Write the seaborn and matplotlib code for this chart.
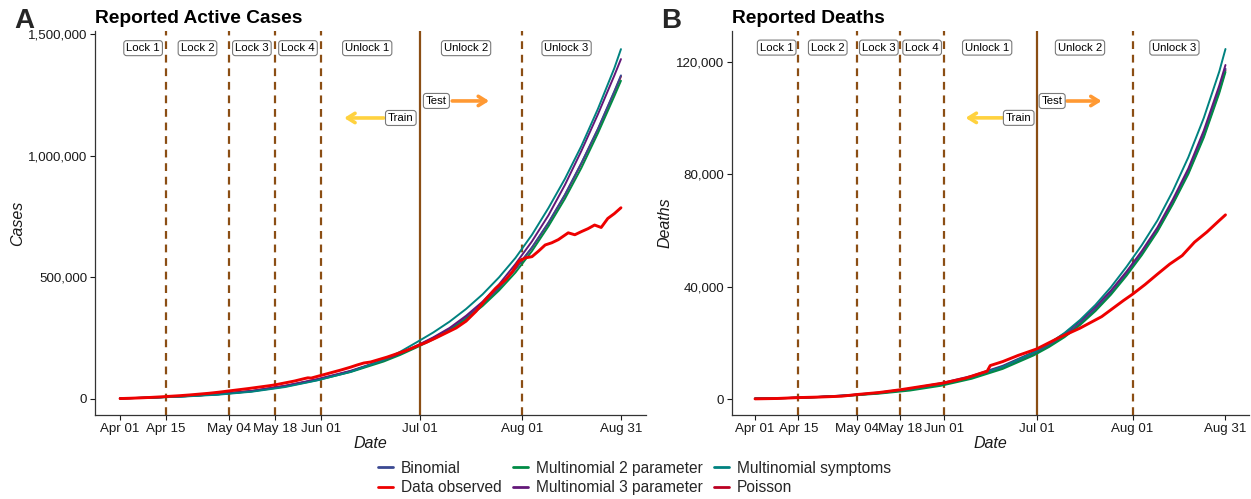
import pandas as pd
import matplotlib
matplotlib.use("Agg")
import matplotlib.pyplot as plt
import matplotlib.dates as mdates
from matplotlib.ticker import FuncFormatter
from matplotlib.lines import Line2D
import seaborn as sns

sns.set_theme(style="ticks")
plt.rcParams["font.family"] = ["Liberation Sans", "DejaVu Sans"]

START = pd.Timestamp("2020-04-01")

# ---------------- data: days counted from 1 April 2020 ----------------
OBS_CASE_DAYS = [0, 3, 6, 9, 12, 15, 18, 21, 24, 27, 30, 33, 36, 39, 42, 45, 47, 50, 53, 56,
                 57, 58, 61, 64, 67, 70, 72, 74, 76, 78, 81, 84, 87, 90, 93, 96, 99, 102, 105, 108,
                 111, 114, 117, 119, 121, 123, 125, 127, 129, 131, 133, 136, 138, 140, 142, 144,
                 146, 148, 150, 152]
OBS_CASES = [1800, 3000, 4500, 6300, 8500, 11000, 13500, 16500, 20000, 23500,
             28000, 33000, 38000, 43000, 48500, 54000, 58000, 66000, 74000, 84000,
             87000, 86000, 97000, 108000, 119000, 131000, 140000, 148000, 152000, 160000,
             172000, 186000, 200000, 217000, 233000, 252000, 272000, 292000, 320000, 360000,
             410000, 455000, 490000, 522000, 566000, 580000, 585000, 608000, 633000, 642000,
             655000, 683000, 675000, 688000, 700000, 715000, 705000, 742000, 762000, 786000]

MODEL_CASE_DAYS = [0, 10, 20, 30, 40, 50, 60, 70, 80, 85, 90, 95, 100, 105, 110, 115, 120,
                   125, 130, 135, 140, 145, 150, 152]
CASES_BINOMIAL = [2500, 6000, 12000, 20000, 32500, 53000, 80000, 114000, 158000, 185000,
                  216000, 250000, 288000, 335000, 390000, 457000, 535000, 623000, 725000,
                  840000, 970000, 1110000, 1265000, 1330000]
CASES_MULTI2 = [2500, 5800, 11500, 19500, 31500, 51000, 78000, 111000, 154000, 181000,
                212000, 245000, 282000, 328000, 382000, 446000, 520000, 608000, 710000,
                823000, 950000, 1092000, 1245000, 1308000]
CASES_MULTI3 = [2500, 6000, 12000, 20000, 33000, 54000, 82000, 116000, 160000, 187000,
                219000, 253000, 292000, 342000, 400000, 471000, 555000, 648000, 755000,
                880000, 1020000, 1170000, 1330000, 1397000]
CASES_SYMPTOMS = [2500, 5500, 10500, 18000, 30000, 49000, 77000, 112000, 160000, 194000,
                  233000, 273000, 318000, 370000, 430000, 500000, 580000, 675000, 785000,
                  905000, 1040000, 1192000, 1360000, 1438000]
CASES_POISSON = [2500, 6000, 12000, 20000, 32500, 53000, 80000, 114000, 158000, 185000,
                 216000, 250000, 288000, 334000, 390000, 456000, 534000, 622000, 723000,
                 838000, 968000, 1108000, 1262000, 1326000]

OBS_DEATH_DAYS = [0, 7, 14, 21, 28, 33, 40, 47, 54, 61, 68, 75, 76, 80, 85, 91, 98, 105, 112,
                  119, 122, 126, 130, 134, 138, 142, 146, 150, 152]
OBS_DEATHS = [50, 180, 500, 700, 1000, 1600, 2300, 3300, 4500, 5700,
              7400, 9900, 11900, 13300, 15500, 17800, 21700, 25200, 29300, 35000,
              37300, 40700, 44400, 48000, 51000, 55800, 59400, 63500, 65500]

MODEL_DEATH_DAYS = [0, 10, 20, 30, 40, 50, 60, 70, 80, 90, 95, 100, 105, 110, 115, 120, 125,
                    130, 135, 140, 145, 150, 152]
DEATHS_BINOMIAL = [150, 335, 690, 1250, 2100, 3350, 5150, 7700, 11200, 16100, 19100, 22600,
                   26900, 32000, 37800, 44500, 52000, 60200, 70100, 81000, 94200, 110000, 117500]
DEATHS_MULTI2 = [150, 320, 640, 1150, 1900, 3000, 4700, 7200, 10700, 15500, 18500, 22000,
                 26300, 31300, 37100, 43800, 51200, 59500, 69300, 80000, 93000, 108800, 116300]
DEATHS_MULTI3 = [150, 350, 720, 1350, 2300, 3700, 5600, 8200, 11800, 16700, 19800, 23300,
                 27700, 32800, 38600, 45300, 52700, 61000, 71000, 82000, 95500, 111500, 118800]
DEATHS_SYMPTOMS = [150, 330, 700, 1300, 2200, 3500, 5300, 7900, 11500, 16500, 19700, 23500,
                   28100, 33500, 39800, 47000, 54800, 63500, 74000, 86000, 100000, 116500, 124500]
DEATHS_POISSON = [150, 330, 680, 1230, 2070, 3300, 5100, 7600, 11100, 15900, 18900, 22400,
                  26700, 31700, 37500, 44200, 51700, 59900, 69700, 80500, 93600, 109500, 117000]

SERIES = ["Binomial", "Data observed", "Multinomial 2 parameter",
          "Multinomial 3 parameter", "Multinomial symptoms", "Poisson"]
MODEL_DRAW_ORDER = ["Poisson", "Binomial", "Multinomial 2 parameter",
                    "Multinomial 3 parameter", "Multinomial symptoms"]
PALETTE = {"Binomial": "#3B4992", "Data observed": "#EE0000",
           "Multinomial 2 parameter": "#008B45", "Multinomial 3 parameter": "#631879",
           "Multinomial symptoms": "#008280", "Poisson": "#BB0021"}

PHASE_DATES = ["2020-04-15", "2020-05-04", "2020-05-18", "2020-06-01", "2020-08-01"]
SPLIT_DATE = "2020-07-01"
PHASE_LABELS = ["Lock 1", "Lock 2", "Lock 3", "Lock 4", "Unlock 1", "Unlock 2", "Unlock 3"]
PHASE_LABEL_DAYS = [7, 23.5, 40, 54, 75, 105, 135.5]
TICK_DATES = ["2020-04-01", "2020-04-15", "2020-05-04", "2020-05-18", "2020-06-01",
              "2020-07-01", "2020-08-01", "2020-08-31"]

LINE_BROWN = "#8B4E14"


def to_dates(days):
    return [START + pd.Timedelta(days=d) for d in days]


def long_frame(days, table):
    rows = []
    for name, vals in table.items():
        for d, v in zip(to_dates(days), vals):
            rows.append({"date": d, "value": v, "series": name})
    return pd.DataFrame(rows)


cases_models = long_frame(MODEL_CASE_DAYS, {
    "Binomial": CASES_BINOMIAL, "Multinomial 2 parameter": CASES_MULTI2,
    "Multinomial 3 parameter": CASES_MULTI3, "Multinomial symptoms": CASES_SYMPTOMS,
    "Poisson": CASES_POISSON})
cases_obs = long_frame(OBS_CASE_DAYS, {"Data observed": OBS_CASES})
deaths_models = long_frame(MODEL_DEATH_DAYS, {
    "Binomial": DEATHS_BINOMIAL, "Multinomial 2 parameter": DEATHS_MULTI2,
    "Multinomial 3 parameter": DEATHS_MULTI3, "Multinomial symptoms": DEATHS_SYMPTOMS,
    "Poisson": DEATHS_POISSON})
deaths_obs = long_frame(OBS_DEATH_DAYS, {"Data observed": OBS_DEATHS})

W, H = 1251, 499
fig = plt.figure(figsize=(W / 100, H / 100), dpi=100)
ax_a = fig.add_axes([95 / W, 84 / H, 551 / W, 384 / H])
ax_b = fig.add_axes([731.5 / W, 84 / H, 517.5 / W, 384 / H])

TEXT = "#1a1a1a"


def draw_panel(ax, models, obs, ylim, yticks, ylabel, title, label_y, train_y, test_y):
    sns.lineplot(data=models, x="date", y="value", hue="series", hue_order=MODEL_DRAW_ORDER,
                 palette=PALETTE, estimator=None, linewidth=1.4, legend=False, ax=ax)
    for d in PHASE_DATES:
        ax.axvline(pd.Timestamp(d), color=LINE_BROWN, lw=1.6, ls=(0, (3.5, 2.6)), zorder=1)
    ax.axvline(pd.Timestamp(SPLIT_DATE), color=LINE_BROWN, lw=1.6, zorder=1)
    sns.lineplot(data=obs, x="date", y="value", color=PALETTE["Data observed"],
                 estimator=None, linewidth=2.1, legend=False, ax=ax)

    box = dict(boxstyle="round,pad=0.22,rounding_size=0.25", fc="white", ec="#7a7a7a", lw=0.8)
    for lab, d in zip(PHASE_LABELS, PHASE_LABEL_DAYS):
        ax.text(START + pd.Timedelta(days=d), label_y, lab, ha="center", va="center",
                fontsize=8.2, color="black", bbox=box, zorder=5)

    ax.annotate("", xy=(START + pd.Timedelta(days=68), train_y),
                xytext=(START + pd.Timedelta(days=80), train_y),
                arrowprops=dict(arrowstyle="->,head_length=0.45,head_width=0.28",
                                color="#FFD23F", lw=2.6, shrinkA=0, shrinkB=0), zorder=4)
    ax.text(START + pd.Timedelta(days=85.2), train_y, "Train", ha="center", va="center",
            fontsize=8.2, color="black", bbox=box, zorder=5)
    ax.annotate("", xy=(START + pd.Timedelta(days=112), test_y),
                xytext=(START + pd.Timedelta(days=100.8), test_y),
                arrowprops=dict(arrowstyle="->,head_length=0.45,head_width=0.28",
                                color="#FF9933", lw=2.6, shrinkA=0, shrinkB=0), zorder=4)
    ax.text(START + pd.Timedelta(days=96), test_y, "Test", ha="center", va="center",
            fontsize=8.2, color="black", bbox=box, zorder=5)

    ax.set_xlim(START - pd.Timedelta(days=7.6), START + pd.Timedelta(days=159.6))
    ax.set_ylim(*ylim)
    ax.set_xticks([pd.Timestamp(t) for t in TICK_DATES])
    ax.xaxis.set_major_formatter(mdates.DateFormatter("%b %d"))
    ax.set_yticks(yticks)
    ax.yaxis.set_major_formatter(FuncFormatter(lambda v, p: f"{v:,.0f}"))
    ax.tick_params(axis="both", labelsize=9.6, colors=TEXT, length=3.5, width=0.8, pad=2)
    ax.set_xlabel("Date", fontstyle="italic", fontsize=11.5, color=TEXT, labelpad=1)
    ax.set_ylabel(ylabel, fontstyle="italic", fontsize=11.5, color=TEXT, labelpad=2)
    ax.set_title(title, loc="left", fontweight="bold", fontsize=13.8, color="black", pad=6)
    for side in ("top", "right"):
        ax.spines[side].set_visible(False)
    for side in ("left", "bottom"):
        ax.spines[side].set_color("#333333")
        ax.spines[side].set_linewidth(0.9)
    ax.grid(False)
    ax.set_facecolor("white")


draw_panel(ax_a, cases_models, cases_obs, (-65800, 1512500),
           [0, 500000, 1000000, 1500000], "Cases", "Reported Active Cases",
           1442000, 1155000, 1225000)
draw_panel(ax_b, deaths_models, deaths_obs, (-5690, 130900),
           [0, 40000, 80000, 120000], "Deaths", "Reported Deaths",
           125000, 100000, 106000)

fig.text(14 / W, 1 - 21 / H, "A", fontsize=20, fontweight="bold", va="center", ha="left")
fig.text(661 / W, 1 - 21 / H, "B", fontsize=20, fontweight="bold", va="center", ha="left")

handles = [Line2D([0], [0], color=PALETTE[s], lw=2.0) for s in SERIES]
fig.legend(handles, SERIES, loc="lower center", bbox_to_anchor=(0.507, -0.005), ncol=3,
           frameon=False, fontsize=11.2, handlelength=1.0, handletextpad=0.5,
           columnspacing=0.7, labelspacing=0.3, borderaxespad=0.0)

fig.savefig("out.png", dpi=100, facecolor="white")
